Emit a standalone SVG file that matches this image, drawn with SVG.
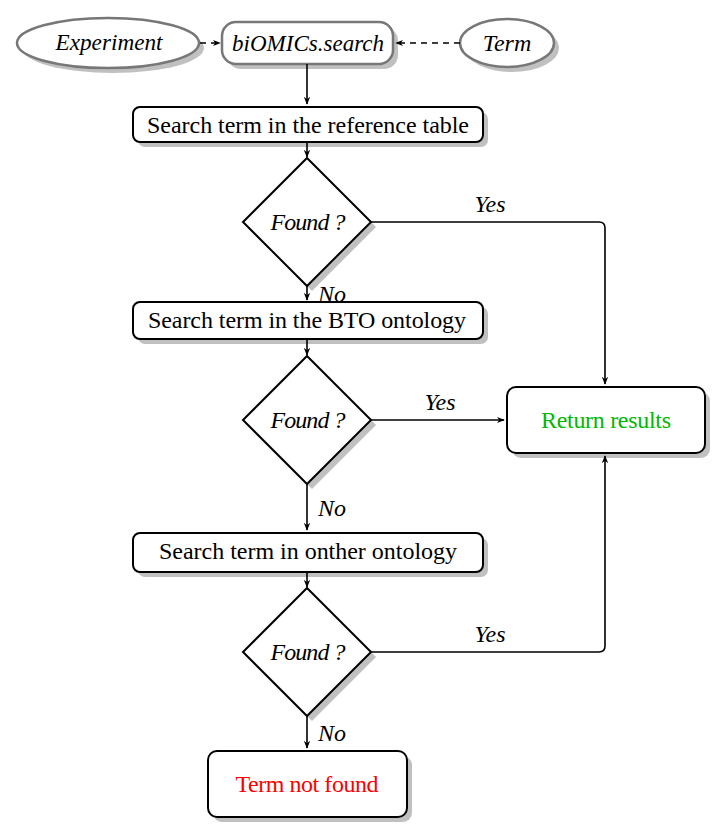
<svg xmlns="http://www.w3.org/2000/svg" width="723" height="834" viewBox="0 0 723 834" font-family="Liberation Serif">
<style>
.n{fill:#fff;stroke:#000;stroke-width:2}
.e{fill:#fff;stroke:#777;stroke-width:2.5}
.sh{fill:#c0c0c0;stroke:none}
.t{font-family:'Liberation Serif','Times New Roman',serif;font-size:24px;fill:#000;text-anchor:middle}
.i{font-style:italic}
.c{fill:none;stroke:#000;stroke-width:1.6}
.d{stroke-dasharray:6,5}
</style>
<defs>
<marker id="a" viewBox="0 0 10 10" refX="9" refY="5" markerWidth="8" markerHeight="8" orient="auto" markerUnits="userSpaceOnUse">
<path d="M0,1 L10,5 L0,9 L3,5 Z" fill="#000"/>
</marker>
</defs>
<rect width="723" height="834" fill="#fff"/>
<g id="experiment">
<ellipse class="sh" cx="113" cy="48" rx="91" ry="25"/>
<ellipse class="e" cx="108" cy="43" rx="91" ry="25"/>
<text class="t i" x="109" y="50" textLength="107" lengthAdjust="spacingAndGlyphs">Experiment</text>
</g>
<g id="biomics">
<rect class="sh" x="227" y="27" width="171" height="42" rx="14"/>
<rect class="e" x="222" y="22" width="171" height="42" rx="14"/>
<text class="t i" x="308" y="51" textLength="152" lengthAdjust="spacingAndGlyphs">biOMICs.search</text>
</g>
<g id="term">
<ellipse class="sh" cx="512" cy="48" rx="47" ry="24"/>
<ellipse class="e" cx="507" cy="43" rx="47" ry="24"/>
<text class="t i" x="507" y="51">Term</text>
</g>
<g id="box1">
<rect class="sh" x="138" y="112" width="350" height="35" rx="7"/>
<rect class="n" x="133" y="107" width="350" height="35" rx="7"/>
<text class="t" x="308" y="133" textLength="322">Search term in the reference table</text>
</g>
<g id="diamond1">
<polygon class="sh" points="312,163 376,227 312,291 248,227"/>
<polygon class="n" points="307,158 371,222 307,286 243,222"/>
<text class="t i" x="308" y="230" textLength="75">Found ?</text>
</g>
<g id="box2">
<rect class="sh" x="138" y="307" width="350" height="37" rx="7"/>
<rect class="n" x="133" y="302" width="350" height="37" rx="7"/>
<text class="t" x="307" y="328" textLength="318">Search term in the BTO ontology</text>
</g>
<g id="diamond2">
<polygon class="sh" points="312,361 376,425 312,489 248,425"/>
<polygon class="n" points="307,356 371,420 307,484 243,420"/>
<text class="t i" x="308" y="428" textLength="75">Found ?</text>
</g>
<g id="return">
<rect class="sh" x="512" y="392" width="198" height="66" rx="9"/>
<rect class="n" x="507" y="387" width="198" height="66" rx="9"/>
<text class="t" x="606" y="428" textLength="130" style="fill:#00b800">Return results</text>
</g>
<g id="box3">
<rect class="sh" x="138" y="538" width="350" height="39" rx="7"/>
<rect class="n" x="133" y="533" width="350" height="39" rx="7"/>
<text class="t" x="308" y="559" textLength="298">Search term in onther ontology</text>
</g>
<g id="diamond3">
<polygon class="sh" points="312,593 376,657 312,721 248,657"/>
<polygon class="n" points="307,588 371,652 307,716 243,652"/>
<text class="t i" x="308" y="660" textLength="75">Found ?</text>
</g>
<g id="notfound">
<rect class="sh" x="213" y="756" width="199" height="66" rx="9"/>
<rect class="n" x="208" y="751" width="199" height="66" rx="9"/>
<text class="t" x="307" y="792" textLength="143" style="fill:#ff0000">Term not found</text>
</g>
<g id="connectors">
<line class="c d" x1="200" y1="43" x2="220" y2="43" marker-end="url(#a)"/>
<line class="c d" x1="460" y1="43" x2="396" y2="43" marker-end="url(#a)"/>
<line class="c" x1="307" y1="64" x2="307" y2="104" marker-end="url(#a)"/>
<line class="c" x1="307" y1="142" x2="307" y2="157" marker-end="url(#a)"/>
<path class="c" d="M371,222 H599 Q605,222 605,228 V384" marker-end="url(#a)"/>
<line class="c" x1="307" y1="286" x2="307" y2="300" marker-end="url(#a)"/>
<line class="c" x1="307" y1="339" x2="307" y2="355" marker-end="url(#a)"/>
<line class="c" x1="371" y1="420" x2="504" y2="420" marker-end="url(#a)"/>
<line class="c" x1="307" y1="484" x2="307" y2="530" marker-end="url(#a)"/>
<line class="c" x1="307" y1="572" x2="307" y2="587" marker-end="url(#a)"/>
<path class="c" d="M371,652 H599 Q605,652 605,646 V456" marker-end="url(#a)"/>
<line class="c" x1="307" y1="716" x2="307" y2="748" marker-end="url(#a)"/>
<text class="t i" x="490" y="212">Yes</text>
<text class="t i" x="332" y="302">No</text>
<text class="t i" x="440" y="410">Yes</text>
<text class="t i" x="332" y="516">No</text>
<text class="t i" x="490" y="642">Yes</text>
<text class="t i" x="332" y="741">No</text>
</g>
</svg>
